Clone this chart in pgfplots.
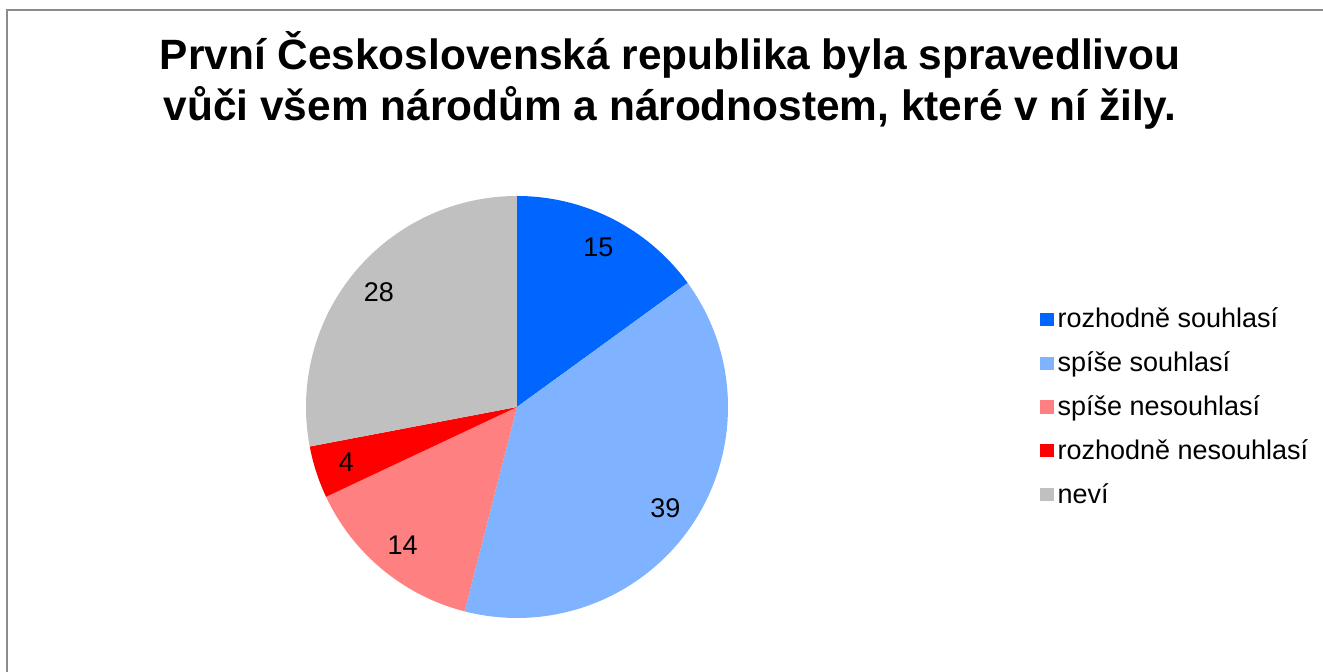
\documentclass[border=0pt]{standalone}
\usepackage{pgfplots}
\pgfplotsset{compat=1.18}
\usepackage{pgfplotstable}
\usepackage{fontspec}
\setmainfont{Liberation Sans}

\definecolor{c1}{HTML}{0066FF}
\definecolor{c2}{HTML}{80B3FF}
\definecolor{c3}{HTML}{FF8080}
\definecolor{c4}{HTML}{FF0000}
\definecolor{c5}{HTML}{C0C0C0}
\definecolor{framegray}{HTML}{8C8C8C}

% share of answers, clockwise from 12 o'clock
\pgfplotstableread{
value color
15 c1
39 c2
14 c3
4  c4
28 c5
}\piedata

\newcommand\R{105.5pt}

\begin{document}
\begin{tikzpicture}
% 1 px of the reference = 0.5pt, origin at the pie centre
\path[use as bounding box] (-258.5pt,-132.5pt) rectangle (403pt,203.5pt);
\draw[framegray, line width=1pt] (-255pt,-160pt) rectangle (420pt,198.5pt);

\node[font=\bfseries\fontsize{21.2}{25}\selectfont, anchor=base] at (76.5pt,168.5pt)
    {První Československá republika byla spravedlivou};
\node[font=\bfseries\fontsize{21.2}{25}\selectfont, anchor=base] at (76.5pt,143pt)
    {vůči všem národům a národnostem, které v ní žily.};

\begin{axis}[
    at={(0,0)}, anchor=origin,
    hide axis,
    x=\R, y=\R,
    xmin=-1, xmax=1, ymin=-1, ymax=1,
    clip=false,
    legend style={at={(axis cs:2.45,0)}, anchor=west, draw=none, fill=none,
        font=\fontsize{13.5}{15}\selectfont, row sep=6.5pt,
        legend cell align=left},
    sq/.style={draw=none, legend image code/.code={\fill (0pt,-3.3pt) rectangle (6.6pt,3.3pt);}},
]
\def\acc{0}
\pgfplotsforeachungrouped \i in {0,...,4} {
    \pgfplotstablegetelem{\i}{value}\of\piedata \let\v\pgfplotsretval
    \pgfplotstablegetelem{\i}{color}\of\piedata \let\c\pgfplotsretval
    \pgfmathsetmacro\sa{90-3.6*\acc}
    \pgfmathsetmacro\ea{90-3.6*(\acc+\v)}
    \pgfmathsetmacro\ma{(\sa+\ea)/2}
    \edef\temp{\noexpand\fill[\c] (axis cs:0,0) -- (axis cs:{cos(\sa)},{sin(\sa)})
        arc[start angle=\sa, end angle=\ea, radius=\noexpand\R] -- cycle;
        \noexpand\node[font=\noexpand\fontsize{13.5}{15}\noexpand\selectfont]
        at (axis cs:{0.85*cos(\ma)},{0.85*sin(\ma)}) {\v};}
    \temp
    \pgfmathsetmacro\acc{\acc+\v}
}
\addlegendimage{sq, fill=c1}\addlegendentry{rozhodně souhlasí}
\addlegendimage{sq, fill=c2}\addlegendentry{spíše souhlasí}
\addlegendimage{sq, fill=c3}\addlegendentry{spíše nesouhlasí}
\addlegendimage{sq, fill=c4}\addlegendentry{rozhodně nesouhlasí}
\addlegendimage{sq, fill=c5}\addlegendentry{neví}
\end{axis}
\end{tikzpicture}
\end{document}
